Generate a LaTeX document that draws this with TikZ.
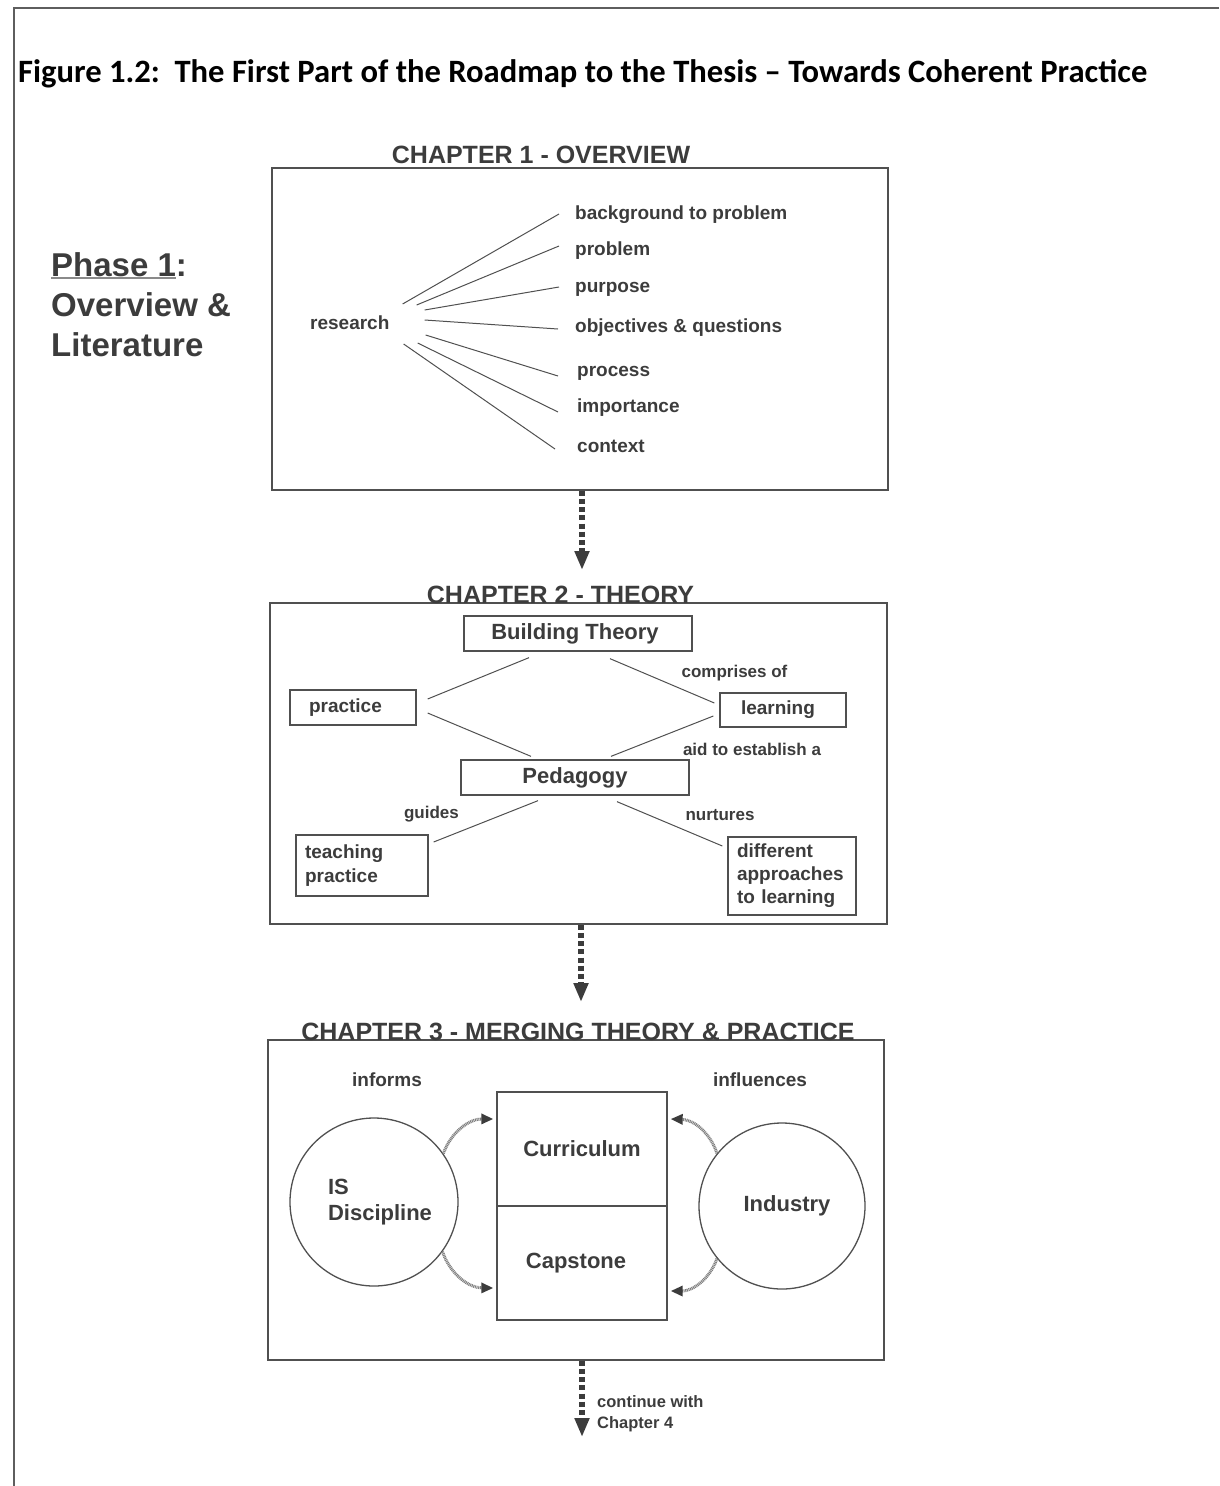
\documentclass[tikz,border=0pt]{standalone}
\usepackage{fontspec}
\setmainfont{Liberation Sans}
\newfontfamily\captionfont{Carlito}
\usetikzlibrary{arrows.meta,calc}
\definecolor{ink}{HTML}{3C3C3C}
\definecolor{edge}{HTML}{505050}
\definecolor{frameline}{HTML}{5E5E5E}
\definecolor{hatch}{HTML}{7E7E7E}
\definecolor{ulgray}{HTML}{8A8A8A}
\newsavebox\phasebox

\begin{document}
\begin{tikzpicture}[x=1pt,y=-1pt,
  every node/.style={text=ink},
  heading/.style={font=\fontsize{25}{28}\selectfont\bfseries, anchor=base, inner sep=0},
  chapbox/.style={draw=edge, line width=1.4pt, rectangle, inner sep=0},
  itemtext/.style={font=\fontsize{19}{22}\selectfont\bfseries, anchor=west, inner sep=0, text height=14pt, text depth=4pt},
  tbox/.style={draw=edge, line width=1.3pt, rectangle, inner ysep=0, font=\fontsize{19}{24}\selectfont\bfseries, align=left},
  bigbox/.style={draw=edge, line width=1.3pt, rectangle, inner sep=0, minimum width=228pt, minimum height=35pt, font=\fontsize{22}{26}\selectfont\bfseries},
  linklabel/.style={font=\fontsize{17}{20}\selectfont\bfseries, inner sep=0},
  link/.style={draw=edge, line width=1pt},
  dotarrow/.style={draw=ink, line width=5.5pt, dash pattern=on 5pt off 3.2pt, -{Triangle[length=19pt,width=14pt]}},
  hatcharrow/.style={draw=hatch, line width=3pt, dash pattern=on 1pt off 0.7pt, -{Triangle[length=12pt,width=10pt,color=ink]}},
  ring/.style={draw=edge, line width=1.3pt, circle, inner sep=0, font=\fontsize{22}{26}\selectfont\bfseries}
]
\useasboundingbox (0,0) rectangle (1219,1486);

% page frame
\draw[frameline, line width=2pt] (1219,8) -- (14,8) -- (14,1486);

% caption
\node[anchor=base west, inner sep=0, text=black, font=\captionfont\fontsize{32.6}{36}\selectfont\bfseries] (caption) at (18,82)
  {Figure 1.2:\ \ The First Part of the Roadmap to the Thesis – Towards Coherent Practice};

% phase label
\node[anchor=north west, inner sep=0, align=left, font=\fontsize{33}{40}\selectfont\bfseries] (phase) at (51,252)
  {\sbox\phasebox{Phase 1}\rlap{\textcolor{ulgray}{\rule[-3pt]{\wd\phasebox}{1.8pt}}}\usebox\phasebox:\\Overview \&\\Literature};

% ---------------- Chapter 1 ----------------
\node[heading] (ch1) at (541,163) {CHAPTER 1 - OVERVIEW};
\node[chapbox, minimum width=616pt, minimum height=322pt] (box1) at (580,329) {};

\node[itemtext] (res) at (310,324) {research};
\node[itemtext] (bg) at (575,214) {background to problem};
\node[itemtext] (prob) at (575,250) {problem};
\node[itemtext] (purp) at (575,287) {purpose};
\node[itemtext] (obj) at (575,327) {objectives \& questions};
\node[itemtext] (proc) at (577,371) {process};
\node[itemtext] (imp) at (577,407) {importance};
\node[itemtext] (ctx) at (577,447) {context};

\draw[link] ($(res.east)+(13,-20)$) -- ($(bg.west)+(-16,0)$);
\draw[link] ($(res.east)+(27,-19)$) -- ($(prob.west)+(-16,-4)$);
\draw[link] ($(res.east)+(35,-14)$) -- ($(purp.west)+(-16,0)$);
\draw[link] ($(res.east)+(35,-4)$) -- ($(obj.west)+(-17,2)$);
\draw[link] ($(res.east)+(36,11)$) -- ($(proc.west)+(-19,5)$);
\draw[link] ($(res.east)+(28,19)$) -- ($(imp.west)+(-19,5)$);
\draw[link] ($(res.east)+(14,20)$) -- ($(ctx.west)+(-22,2)$);

\coordinate (a1end) at (582,570);
\draw[dotarrow] (box1.south -| a1end) -- (a1end);

% ---------------- Chapter 2 ----------------
\node[chapbox, minimum width=617pt, minimum height=321pt] (box2) at (578.5,763.5) {};
\node[heading] (ch2) at (560.5,603) {CHAPTER 2 - THEORY};

\node[bigbox] (bt) at (578,633.5) {Building Theory\hspace*{6pt}};
\node[tbox, inner xsep=19pt, text width=88pt, minimum height=35pt] (prac) at (353,707.5) {practice};
\node[tbox, inner xsep=21pt, text width=84pt, minimum height=34pt] (learn) at (783,710) {learning};
\node[bigbox] (ped) at (575,777.5) {Pedagogy};
\node[tbox, inner xsep=9pt, text width=114pt, minimum height=61pt] (teach) at (362,865.5) {teaching\\practice};
\node[tbox, inner xsep=9pt, text width=110pt, minimum height=78pt, font=\fontsize{19}{23}\selectfont\bfseries] (diff) at (792,876) {different\\approaches\\to learning};

\node[linklabel] (lcomp) at (734.5,673) {comprises of};
\node[linklabel] (laid) at (752,749) {aid to establish a};
\node[linklabel] (lguide) at (431.5,814) {guides};
\node[linklabel] (lnurt) at (720,815) {nurtures};

\draw[link] ($(bt.south)+(-49,6)$) -- ($(prac.east)+(11,-8.5)$);
\draw[link] ($(bt.south)+(32,7)$) -- ($(learn.west)+(-5,-7)$);
\draw[link] ($(prac.east)+(11,5.5)$) -- ($(ped.north)+(-44,-3)$);
\draw[link] ($(learn.west)+(-6,6)$) -- ($(ped.north)+(36,-3)$);
\draw[link] ($(ped.south)+(-37,5)$) -- ($(teach.east)+(5,-23.5)$);
\draw[link] ($(ped.south)+(42,6)$) -- ($(diff.west)+(-5,-30)$);

\coordinate (a2end) at (581,1002);
\draw[dotarrow] (box2.south -| a2end) -- (a2end);

% ---------------- Chapter 3 ----------------
\node[chapbox, minimum width=616pt, minimum height=320pt] (box3) at (576,1200) {};
\node[heading] (ch3) at (578,1040) {CHAPTER 3 - MERGING THEORY \& PRACTICE};

\node[linklabel, font=\fontsize{19}{22}\selectfont\bfseries] (linf) at (387,1080) {informs};
\node[linklabel, font=\fontsize{19}{22}\selectfont\bfseries] (linfl) at (760,1080) {influences};

\node[bigbox, minimum width=170pt, minimum height=114pt] (curr) at (582,1149) {Curriculum};
\node[bigbox, minimum width=170pt, minimum height=114pt] (caps) at (582,1263) {Capstone\hspace*{12pt}};

\node[ring, minimum size=168pt, align=left] (isd) at (374,1202) {\hspace*{12pt}IS\\\hspace*{12pt}Discipline};
\node[ring, minimum size=166pt] (ind) at (782,1206) {\hspace*{10pt}Industry};

\draw[hatcharrow] (isd.35) to[bend left=35] ($(curr.west)+(-3,-30)$);
\draw[hatcharrow] (isd.-36) to[bend right=35] ($(caps.west)+(-3,25)$);
\draw[hatcharrow] (ind.141) to[bend right=35] ($(curr.east)+(3,-30)$);
\draw[hatcharrow] (ind.219) to[bend left=35] ($(caps.east)+(3,28)$);

\coordinate (a3end) at (582,1437);
\draw[dotarrow] (box3.south -| a3end) -- (a3end);
\node[anchor=west, inner sep=0, align=left, font=\fontsize{16.5}{21}\selectfont\bfseries] (cont) at (597,1413.5) {continue with\\Chapter 4};

\end{tikzpicture}
\end{document}
